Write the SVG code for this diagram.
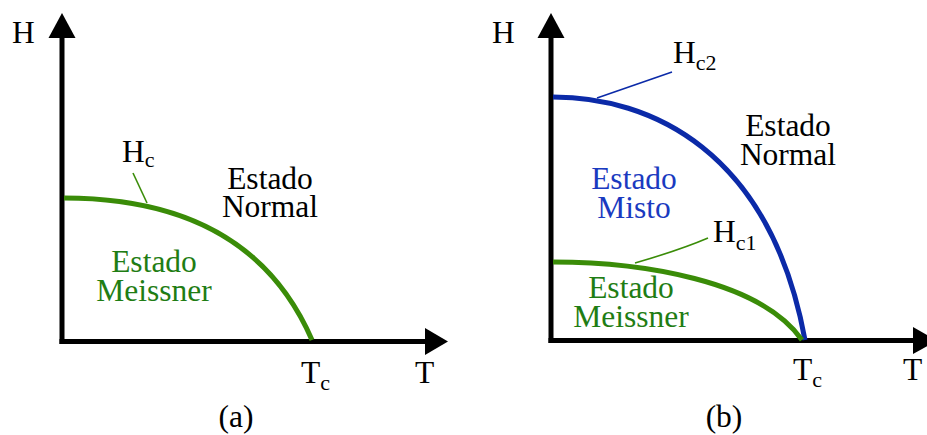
<svg xmlns="http://www.w3.org/2000/svg" width="927" height="435" viewBox="0 0 927 435">
<style>
text{font-family:"Liberation Serif","Times New Roman",serif;font-size:31.5px;fill:#000}
.sub{font-size:22px}
.mid{text-anchor:middle}
.axis{stroke:#000;stroke-width:5;fill:none}
.head{fill:#000}
.gc{stroke:#3a8c08;stroke-width:5;fill:none}
.bc{stroke:#0b2aa8;stroke-width:5;fill:none}
.gl{stroke:#3a8c08;stroke-width:1.6;fill:none}
.bl{stroke:#0b2aa8;stroke-width:1.6;fill:none}
.gt{fill:#1f7d14}
.bt{fill:#1a3ac0}
</style>
<g id="panel-a">
  <g id="axes-a">
    <line class="axis" x1="62" y1="35" x2="62" y2="344"/>
    <line class="axis" x1="59.5" y1="341.5" x2="427" y2="341.5"/>
    <polygon class="head" points="62,13 75.5,38 48.5,38"/>
    <polygon class="head" points="448,341.5 425,328 425,355"/>
  </g>
  <g id="hc-curve">
    <path class="gc" d="M64 198 C150 198 260 220 312 340"/>
    <line class="gl" x1="133" y1="173" x2="147" y2="203"/>
  </g>
  <g id="labels-a">
    <text x="12" y="43">H</text>
    <text x="415" y="383">T</text>
    <text x="301" y="383">T<tspan class="sub" dy="7">c</tspan></text>
    <text x="122" y="162">H<tspan class="sub" dy="5">c</tspan></text>
    <text class="mid" x="270" y="189">Estado</text>
    <text class="mid" x="270" y="217">Normal</text>
    <text class="mid gt" x="154" y="272">Estado</text>
    <text class="mid gt" x="154" y="301">Meissner</text>
    <text class="mid" x="236" y="427">(a)</text>
  </g>
</g>
<g id="panel-b">
  <g id="axes-b">
    <line class="axis" x1="551" y1="35" x2="551" y2="343"/>
    <line class="axis" x1="548.5" y1="340.5" x2="916" y2="340.5"/>
    <polygon class="head" points="551,13 564.5,38 537.5,38"/>
    <polygon class="head" points="937,340.5 913,327 913,354"/>
  </g>
  <g id="hc2-curve">
    <path class="bc" d="M553 97 C650 97 770 150 805 340"/>
    <path class="bl" d="M597 98 Q640 83 672 72"/>
  </g>
  <g id="hc1-curve">
    <path class="gc" d="M553 262 C640 262 760 280 802 340"/>
    <path class="gl" d="M635 263 Q680 250 708 238"/>
  </g>
  <g id="labels-b">
    <text x="492" y="43">H</text>
    <text x="903" y="380">T</text>
    <text x="793" y="380">T<tspan class="sub" dy="7">c</tspan></text>
    <text x="673" y="63">H<tspan class="sub" dy="7">c2</tspan></text>
    <text x="713" y="242">H<tspan class="sub" dy="8">c1</tspan></text>
    <text class="mid" x="788" y="136">Estado</text>
    <text class="mid" x="788" y="165">Normal</text>
    <text class="mid bt" x="634" y="189">Estado</text>
    <text class="mid bt" x="634" y="218">Misto</text>
    <text class="mid gt" x="631" y="298">Estado</text>
    <text class="mid gt" x="631" y="327">Meissner</text>
    <text class="mid" x="724" y="427">(b)</text>
  </g>
</g>
</svg>
